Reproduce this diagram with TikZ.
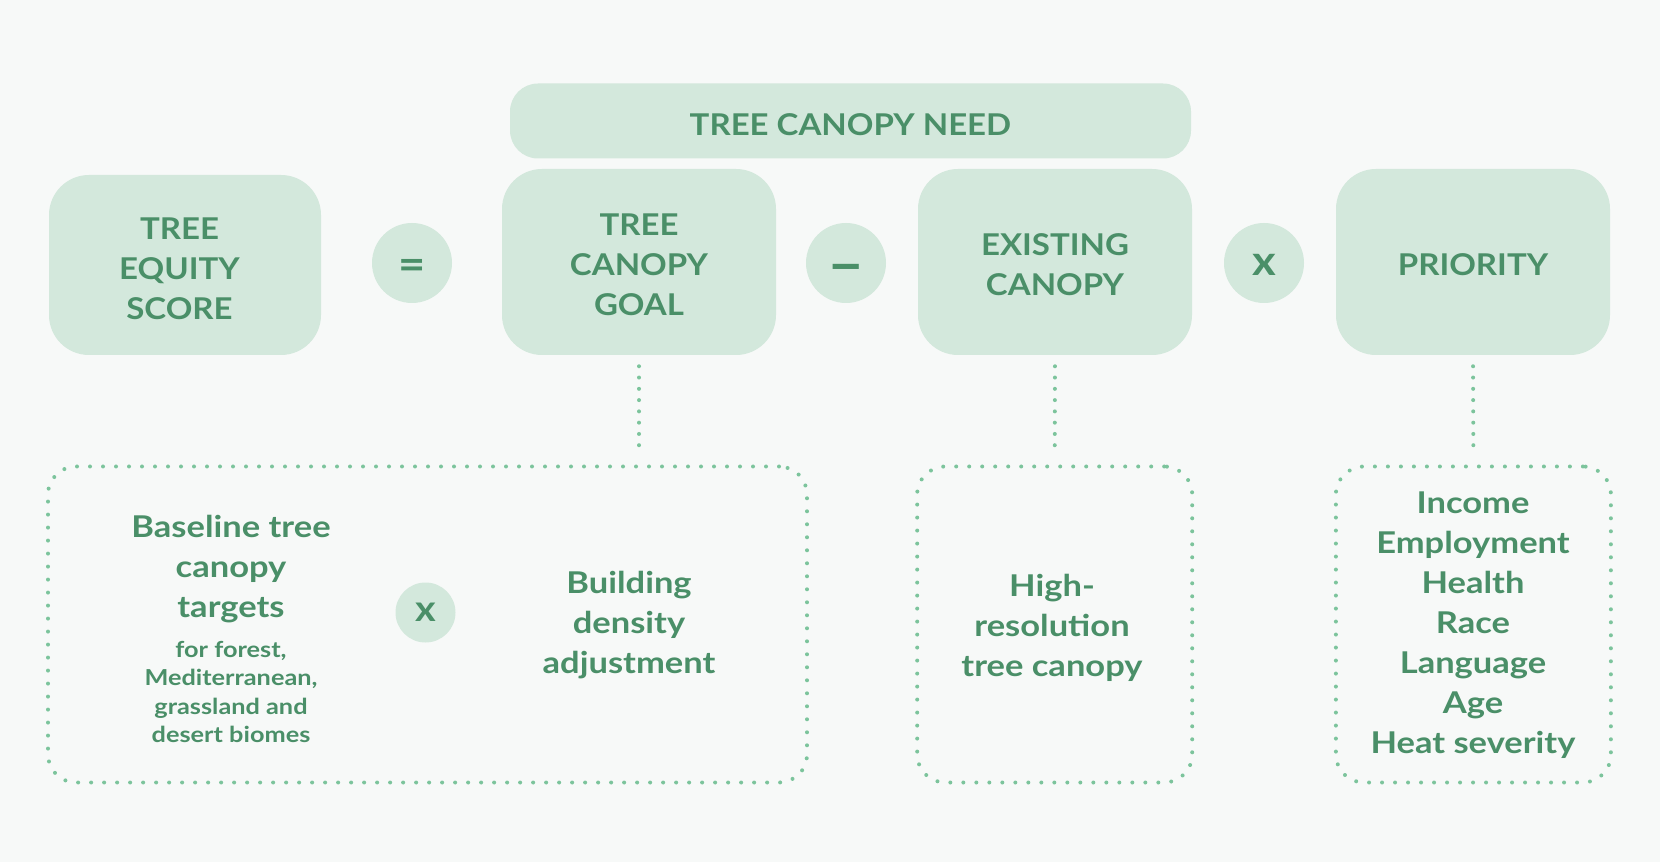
\documentclass[tikz,border=0pt]{standalone}
\usepackage{fontspec}
\setmainfont{Lato}[FakeStretch=1.1]
\newfontfamily\bodyfam{Lato}[FakeStretch=1.15]
\definecolor{bgc}{HTML}{F7F9F8}
\definecolor{boxfill}{HTML}{D3E8DC}
\definecolor{txtgreen}{HTML}{4A8F68}
\definecolor{dotgreen}{HTML}{7CC49C}
\newcommand{\capfont}{\fontsize{22.5pt}{30pt}\selectfont\bfseries}
\newcommand{\bodyfont}{\bodyfam\fontsize{22.5pt}{30pt}\selectfont\bfseries}
\newcommand{\smallfont}{\bodyfam\fontsize{16.5pt}{21.2pt}\selectfont\bfseries}
\tikzset{
  solidbox/.style={fill=boxfill, draw=none, rounded corners=30pt, inner sep=0pt},
  captext/.style={align=center, text=txtgreen, font=\capfont, inner sep=0pt},
  opcircle/.style={circle, fill=boxfill, draw=none, inner sep=0pt, minimum size=60pt,
    text=txtgreen},
  dotbox/.style={draw=dotgreen, line width=3pt, line cap=round,
    dash pattern=on 0pt off 9.75pt, rounded corners=21pt, inner sep=0pt,
    minimum height=237pt},
  dotline/.style={draw=dotgreen, line width=3pt, line cap=round,
    dash pattern=on 0pt off 8.46pt},
  bodytext/.style={align=center, text=txtgreen, font=\bodyfont, inner sep=0pt},
  smalltext/.style={align=center, text=txtgreen, font=\smallfont, inner sep=0pt}
}
\begin{document}
\begin{tikzpicture}[x=0.75pt,y=-0.75pt]
\fill[bgc] (0,0) rectangle (1660,862);
\useasboundingbox (0,0) rectangle (1660,862);

% top row boxes
\node[solidbox, minimum width=510.75pt, minimum height=56.25pt, rounded corners=21pt] (need) at (850.5,121) {};
\node[solidbox, minimum width=204pt, minimum height=135pt] (equity) at (185,265) {};
\node[solidbox, minimum width=205.5pt, minimum height=139.5pt] (goal) at (639,262) {};
\node[solidbox, minimum width=205.5pt, minimum height=139.5pt] (existing) at (1055,262) {};
\node[solidbox, minimum width=205.5pt, minimum height=139.5pt] (priority) at (1473,262) {};

% box labels
\node[captext] (needT) at (850.5,124.5) {TREE CANOPY NEED};
\node[captext] (equityT) at (179.5,268.5) {TREE\\EQUITY\\SCORE};
\node[captext] (goalT) at (639,264.5) {TREE\\CANOPY\\GOAL};
\node[captext] (existingT) at (1055,264.5) {EXISTING\\CANOPY};
\node[captext] (priorityT) at (1473,264.5) {PRIORITY};

% operators
\node[opcircle, font=\fontsize{32pt}{32pt}\selectfont\bfseries] (eq) at (412,263) {\raisebox{-12.5pt}[0pt][0pt]{=}};
\node[opcircle, font=\fontsize{44pt}{44pt}\selectfont\bfseries] (minus) at (846,263) {\raisebox{-15.8pt}[0pt][0pt]{--}};
\node[opcircle, font=\fontsize{31pt}{31pt}\selectfont\bfseries] (times) at (1264,263) {\raisebox{-9.5pt}[0pt][0pt]{x}};

% dotted boxes
\node[dotbox, minimum width=569.25pt] (leftdot) at (427.5,624.5) {};
\node[dotbox, minimum width=206.25pt] (middot) at (1054.7,624.5) {};
\node[dotbox, minimum width=206.25pt] (rightdot) at (1473.4,624.5) {};

% connectors
\draw[dotline, shorten <=8.25pt, shorten >=12pt] (goal.south) -- (goal.south |- leftdot.north);
\draw[dotline, shorten <=8.25pt, shorten >=12pt] (existing.south) -- (middot.north);
\draw[dotline, shorten <=8.25pt, shorten >=12pt] (priority.south) -- (rightdot.north);

% contents of dotted boxes
\node[bodytext] (baseline) at (231,569.5) {Baseline tree\\canopy\\targets};
\node[smalltext] (biomes) at (231,692) {for forest,\\Mediterranean,\\grassland and\\desert biomes};
\node[opcircle, minimum size=45pt, font=\fontsize{27pt}{27pt}\selectfont\bfseries] (times2) at (425.5,612.5) {x};
\node[bodytext] (building) at (629,625.5) {Building\\density\\adjustment};
\node[bodytext] (highres) at (1052,627.5) {High-\\resolution\\tree canopy};
\node[bodytext] (factors) at (1473,625) {Income\\Employment\\Health\\Race\\Language\\Age\\Heat severity};
\end{tikzpicture}
\end{document}
